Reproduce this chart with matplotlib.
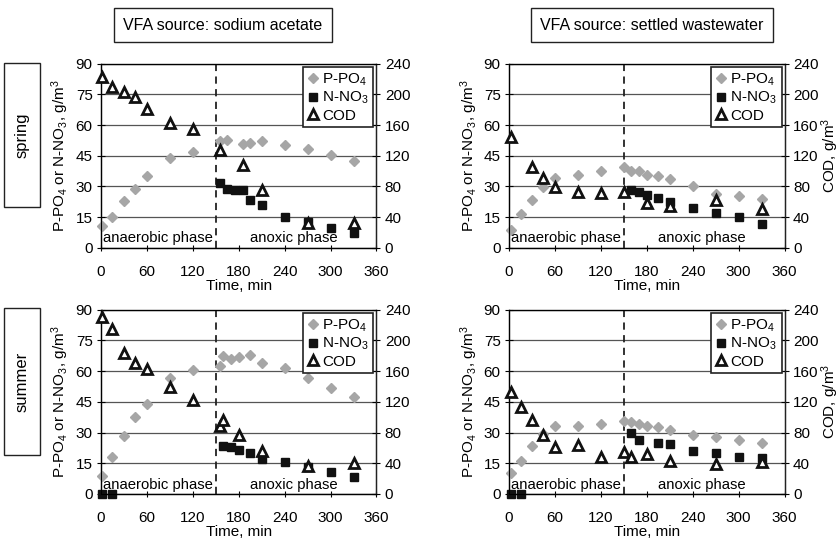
import matplotlib
matplotlib.use("Agg")
import matplotlib.pyplot as plt
from matplotlib.lines import Line2D

plt.rcParams['font.family'] = ['Liberation Sans', 'DejaVu Sans']
plt.rcParams['mathtext.default'] = 'regular'

# sodium acetate, spring
a_sp_tP = [2, 15, 30, 45, 60, 90, 120, 155, 165, 185, 195, 210, 240, 270, 300, 330]
a_sp_P = [10.5, 15.3, 22.8, 29.0, 35.3, 43.9, 47.0, 52.3, 52.9, 50.9, 51.3, 52.0, 50.4, 48.2, 45.5, 42.3]
a_sp_tN = [155, 165, 175, 185, 195, 210, 240, 270, 300, 330]
a_sp_N = [31.6, 28.7, 28.1, 28.1, 23.3, 21.0, 15.0, 12.5, 9.8, 7.2]
a_sp_tC = [2, 15, 30, 45, 60, 90, 120, 155, 185, 210, 270, 330]
a_sp_C = [222, 210, 203, 196, 181, 163, 155, 127, 108, 75, 33, 32]

# settled wastewater, spring
w_sp_tP = [2, 15, 30, 45, 60, 90, 120, 150, 160, 170, 180, 195, 210, 240, 270, 300, 330]
w_sp_P = [8.9, 16.6, 23.5, 29.8, 34.1, 35.5, 37.5, 39.5, 37.5, 37.4, 35.8, 35.0, 33.8, 30.1, 26.5, 25.5, 23.9]
w_sp_tN = [160, 170, 180, 195, 210, 240, 270, 300, 330]
w_sp_N = [28.1, 27.3, 26.0, 24.4, 22.6, 19.5, 17.1, 15.1, 11.9]
w_sp_tC = [2, 30, 45, 60, 90, 120, 150, 180, 210, 270, 330]
w_sp_C = [144.5, 105.5, 90.7, 79.4, 73, 71.6, 73, 58.6, 54, 62.5, 50.5]

# sodium acetate, summer
a_su_tP = [2, 15, 30, 45, 60, 90, 120, 155, 160, 170, 180, 195, 210, 240, 270, 300, 330]
a_su_P = [8.8, 18.2, 28.2, 37.6, 44.1, 56.8, 60.6, 62.6, 67.6, 66.0, 66.8, 68.1, 63.9, 61.5, 56.8, 51.9, 47.3]
a_su_tN = [2, 15, 160, 170, 180, 195, 210, 240, 270, 300, 330]
a_su_N = [0, 0, 23.5, 22.7, 21.7, 20.1, 17.3, 15.4, 13.3, 10.9, 8.4]
a_su_tC = [2, 15, 30, 45, 60, 90, 120, 155, 160, 180, 210, 270, 330]
a_su_C = [231, 215, 183, 171, 163, 139, 123, 88, 96, 76.5, 56, 36, 40]

# settled wastewater, summer
w_su_tP = [2, 15, 30, 45, 60, 90, 120, 150, 160, 170, 180, 195, 210, 240, 270, 300, 330]
w_su_P = [10.2, 16.3, 23.3, 29.5, 33.0, 33.0, 34.1, 35.8, 35.3, 34.1, 33.0, 32.5, 31.2, 28.8, 28.0, 26.3, 24.7]
w_su_tN = [2, 15, 160, 170, 195, 210, 240, 270, 300, 330]
w_su_N = [0, 0, 30.0, 26.5, 25.1, 24.6, 20.9, 20.0, 18.2, 17.4]
w_su_tC = [2, 15, 30, 45, 60, 90, 120, 150, 160, 180, 210, 270, 330]
w_su_C = [132.4, 113.7, 96.4, 77, 61, 64, 48.7, 54.3, 48.7, 52, 43, 39.5, 41.5]

sources = ["VFA source: sodium acetate", "VFA source: settled wastewater"]
seasons = ["spring", "summer"]
xticks = [0, 60, 120, 180, 240, 300, 360]
yticks = [0, 15, 30, 45, 60, 75, 90]
cticks = [0, 40, 80, 120, 160, 200, 240]

GRAY = "#a6a6a6"
FS = 11
P_STYLE = dict(ls='none', marker='D', ms=5.5, color=GRAY, mec=GRAY)
N_STYLE = dict(ls='none', marker='s', ms=5.5, color="#111111")
C_STYLE = dict(ls='none', marker='^', ms=7, mfc='white', mec="#111111", mew=2.0)


def panel(rect, tP, P, tN, N, tC, C, right_label):
    ax = fig.add_axes(rect)
    ax.set_xlim(0, 360)
    ax.set_ylim(0, 90)
    ax.set_xticks(xticks)
    ax.set_yticks(yticks)
    ax.yaxis.grid(True, color="#555555", lw=0.9)
    ax.set_axisbelow(True)
    ax.tick_params(axis='y', direction='inout', length=6, labelsize=FS, pad=3)
    ax.tick_params(axis='x', direction='inout', length=5, labelsize=FS, pad=10)
    ax.tick_params(top=False, right=False)
    for s in ax.spines.values():
        s.set_color("#222222")
        s.set_linewidth(1.0)
    ax.spines['top'].set_color("#555555")
    ax.axvline(150, color="#222222", lw=1.3, ls=(0, (4, 3)), zorder=3)
    ax.plot(tP, P, clip_on=False, zorder=4, **P_STYLE)
    ax.plot(tN, N, clip_on=False, zorder=4, **N_STYLE)
    ax.set_xlabel("Time, min", fontsize=FS, labelpad=0)
    ax.set_ylabel("P-PO$_4$ or N-NO$_3$, g/m$^3$", fontsize=FS, labelpad=3)
    ax.text(3, 1.2, "anaerobic phase", fontsize=10.7, ha='left', va='bottom', zorder=5)
    ax.text(252, 1.2, "anoxic phase", fontsize=10.7, ha='center', va='bottom', zorder=5)

    ax2 = ax.twinx()
    ax2.set_ylim(0, 240)
    ax2.set_yticks(cticks)
    ax2.tick_params(axis='y', direction='inout', length=6, labelsize=FS, pad=3)
    ax2.spines['right'].set_color("#222222")
    ax2.plot(tC, C, clip_on=False, zorder=5, **C_STYLE)
    if right_label:
        ax2.set_ylabel("COD, g/m$^3$", fontsize=FS, labelpad=1)

    handles = [Line2D([], [], **P_STYLE), Line2D([], [], **N_STYLE), Line2D([], [], **C_STYLE)]
    leg = ax2.legend(handles, ["P-PO$_4$", "N-NO$_3$", "COD"], loc='upper right',
                     fontsize=FS, frameon=True, fancybox=False, framealpha=1,
                     edgecolor="#222222", borderaxespad=0.2, handlelength=0.8,
                     handletextpad=0.2, labelspacing=0.15, borderpad=0.3)
    leg.get_frame().set_linewidth(1.2)
    return ax


fig = plt.figure(figsize=(8.4, 5.39), dpi=100)

W = 0.328
H = 0.342
lefts = [0.1202, 0.606]
bottoms = [0.540, 0.0835]

panel([lefts[0], bottoms[0], W, H], a_sp_tP, a_sp_P, a_sp_tN, a_sp_N, a_sp_tC, a_sp_C, False)
panel([lefts[1], bottoms[0], W, H], w_sp_tP, w_sp_P, w_sp_tN, w_sp_N, w_sp_tC, w_sp_C, True)
panel([lefts[0], bottoms[1], W, H], a_su_tP, a_su_P, a_su_tN, a_su_N, a_su_tC, a_su_C, False)
panel([lefts[1], bottoms[1], W, H], w_su_tP, w_su_P, w_su_tN, w_su_N, w_su_tC, w_su_C, True)

# column titles in boxes
for xc, txt in zip([223 / 840, 652 / 840], sources):
    fig.text(xc, 1 - 25 / 539, txt, fontsize=11.5, ha='center', va='center',
             bbox=dict(boxstyle='square,pad=0.6', facecolor='white', edgecolor='#222222', lw=1.0))

# row labels in tall boxes
for (y0, y1), txt in zip([(63, 207), (308, 455)], seasons):
    r = plt.Rectangle((4 / 840, 1 - y1 / 539), 36 / 840, (y1 - y0) / 539, transform=fig.transFigure,
                      facecolor='white', edgecolor='#222222', lw=1.0)
    fig.add_artist(r)
    fig.text(22 / 840, 1 - (y0 + y1) / 2 / 539, txt, fontsize=12, rotation=90, ha='center', va='center')

fig.savefig("out.png", dpi=100)
